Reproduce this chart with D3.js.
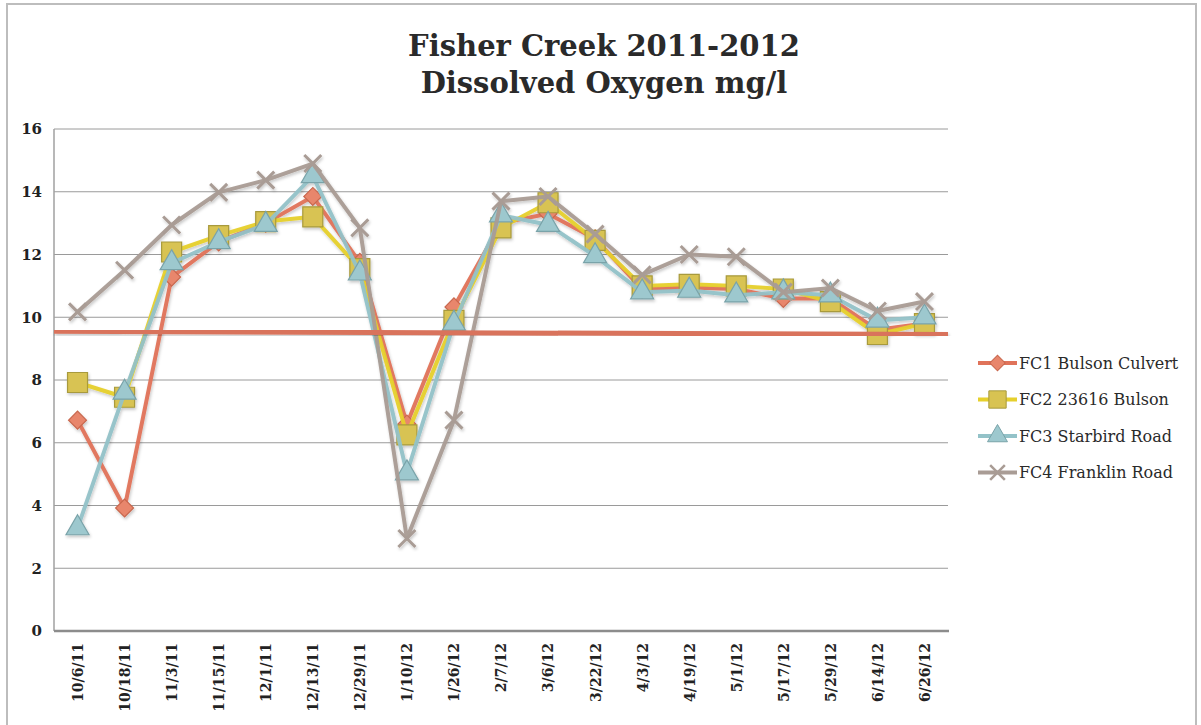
<!DOCTYPE html>
<html>
<head>
<meta charset="utf-8">
<script src="https://cdn.jsdelivr.net/npm/d3@7/dist/d3.min.js"></script>
<style>
  html, body { margin: 0; padding: 0; background: #fff; }
  svg { display: block; }
</style>
</head>
<body>
<svg id="chart" width="1201" height="725"></svg>
<script>
const dates = ["10/6/11","10/18/11","11/3/11","11/15/11","12/1/11","12/13/11","12/29/11","1/10/12","1/26/12","2/7/12","3/6/12","3/22/12","4/3/12","4/19/12","5/1/12","5/17/12","5/29/12","6/14/12","6/26/12"];
const fc1 = [6.72, 3.92, 11.28, 12.4, 13.0, 13.85, 11.75, 6.6, 10.33, 13.0, 13.3, 12.5, 10.9, 10.95, 10.9, 10.6, 10.6, 9.6, 9.8];
const fc2 = [7.92, 7.45, 12.08, 12.6, 13.05, 13.2, 11.55, 6.25, 9.9, 12.85, 13.65, 12.45, 11.0, 11.05, 11.0, 10.9, 10.5, 9.45, 9.8];
const fc3 = [3.28, 7.6, 11.73, 12.4, 12.95, 14.5, 11.4, 5.03, 9.8, 13.25, 12.95, 11.95, 10.8, 10.85, 10.7, 10.8, 10.7, 9.9, 10.0];
const fc4 = [10.17, 11.5, 12.94, 13.98, 14.37, 14.9, 12.85, 2.95, 6.72, 13.7, 13.85, 12.65, 11.35, 12.0, 11.93, 10.8, 10.93, 10.2, 10.5];
const seriesNames = ["FC1 Bulson Culvert", "FC2 23616 Bulson", "FC3 Starbird Road", "FC4 Franklin Road"];
const yTicks = [0, 2, 4, 6, 8, 10, 12, 14, 16];
const threshold = [9.55, 9.45];
const titleLines = ["Fisher Creek 2011-2012", "Dissolved Oxygen mg/l"];

const styles = [
  { line: "#E0735A", fill: "#E8866C", stroke: "#C9684F", symbol: d3.symbolSquare, size: 160, rot: 45 },
  { line: "#E6D02C", fill: "#D8C352", stroke: "#A89A3C", symbol: d3.symbolSquare, size: 400, rot: 0 },
  { line: "#93C2C8", fill: "#9DC8CE", stroke: "#7AA3A9", symbol: d3.symbolTriangle, size: 230, rot: 0 },
  { line: "#A99C95", fill: "none", stroke: "#A99C95", symbol: d3.symbolX, size: 190, rot: 0 }
];
const allSeries = [fc1, fc2, fc3, fc4];

const svg = d3.select("#chart");
const FONT = "'DejaVu Serif', 'Liberation Serif', serif";

const defs = svg.append("defs");
const f = defs.append("filter").attr("id", "shadow").attr("x", "-20%").attr("y", "-20%").attr("width", "140%").attr("height", "140%");
f.append("feDropShadow").attr("dx", 1).attr("dy", 2).attr("stdDeviation", 1.5).attr("flood-color", "#000").attr("flood-opacity", 0.22);

// frame
svg.append("rect").attr("x", 7).attr("y", 4).attr("width", 1189).attr("height", 740)
  .attr("fill", "none").attr("stroke", "#bdbdbd").attr("stroke-width", 2);

const x = d3.scalePoint().domain(dates).range([54, 948]).padding(0.5);
const y = d3.scaleLinear().domain([0, 16]).range([631, 129]);

// gridlines
svg.append("g").selectAll("line").data(yTicks.filter(d => d > 0)).join("line")
  .attr("x1", 54).attr("x2", 948).attr("y1", d => y(d)).attr("y2", d => y(d))
  .attr("stroke", "#9a9a9a").attr("stroke-width", 1);

// left axis line
svg.append("line").attr("x1", 54).attr("x2", 54).attr("y1", y(16)).attr("y2", y(0))
  .attr("stroke", "#a0a0a0").attr("stroke-width", 1.5);
// baseline
svg.append("line").attr("x1", 54).attr("x2", 949).attr("y1", y(0)).attr("y2", y(0))
  .attr("stroke", "#8c8c8c").attr("stroke-width", 2.5);

// y axis labels
const yAxis = d3.axisLeft(y).tickValues(yTicks).tickSize(0).tickPadding(0);
const yg = svg.append("g").attr("transform", "translate(42,0)").call(yAxis);
yg.select(".domain").remove();
yg.selectAll("text").attr("font-family", FONT).attr("font-weight", "bold")
  .attr("font-size", 15).attr("fill", "#222");

// x axis labels
const xAxis = d3.axisBottom(x).tickSize(0).tickPadding(0);
const xg = svg.append("g").attr("transform", "translate(0,643)").call(xAxis);
xg.select(".domain").remove();
xg.selectAll("text")
  .attr("font-family", FONT).attr("font-weight", "bold").attr("font-size", 14).attr("fill", "#222")
  .attr("text-anchor", "end").attr("dy", "0.35em")
  .attr("transform", "rotate(-90)").attr("x", 0).attr("y", 0);

// series lines
const lineGen = d3.line().x((d, i) => x(dates[i])).y(d => y(d));
const seriesG = svg.append("g").attr("filter", "url(#shadow)");
allSeries.forEach((vals, si) => {
  const st = styles[si];
  const g = seriesG.append("g");
  g.append("path").datum(vals).attr("d", lineGen)
    .attr("fill", "none").attr("stroke", st.line).attr("stroke-width", 4)
    .attr("stroke-linejoin", "round").attr("stroke-opacity", 0.95);
  g.selectAll("path.m").data(vals).join("path").attr("class", "m")
    .attr("transform", (d, i) => `translate(${x(dates[i])},${y(d)}) rotate(${st.rot})`)
    .attr("d", d3.symbol().type(st.symbol).size(st.size))
    .attr("fill", st.fill).attr("stroke", st.stroke)
    .attr("stroke-width", st.fill === "none" ? 3 : 1.2);
});

// threshold line
svg.append("line")
  .attr("x1", 54).attr("x2", 948)
  .attr("y1", y(threshold[0])).attr("y2", y(threshold[1]))
  .attr("stroke", "#D9735C").attr("stroke-width", 5).attr("filter", "url(#shadow)");

// title
svg.append("g").selectAll("text").data(titleLines).join("text")
  .attr("x", 604).attr("y", (d, i) => 56 + i * 37)
  .attr("text-anchor", "middle")
  .attr("font-family", FONT).attr("font-weight", "bold").attr("font-size", 29)
  .attr("fill", "#2a2a2a").text(d => d);

// legend
const lg = svg.append("g");
seriesNames.forEach((name, i) => {
  const st = styles[i];
  const yy = 363 + i * 36.5;
  const row = lg.append("g").attr("transform", `translate(0,${yy})`);
  row.append("line").attr("x1", 978).attr("x2", 1017).attr("y1", 0).attr("y2", 0)
    .attr("stroke", st.line).attr("stroke-width", 4);
  row.append("path").attr("transform", `translate(997.5,0) rotate(${st.rot})`)
    .attr("d", d3.symbol().type(st.symbol).size(st.size * 0.75))
    .attr("fill", st.fill).attr("stroke", st.stroke).attr("stroke-width", st.fill === "none" ? 2.5 : 1);
  row.append("text").attr("x", 1019).attr("y", 0).attr("dy", "0.35em")
    .attr("font-family", FONT).attr("font-size", 16).attr("fill", "#2a2a2a").text(name);
});
</script>
</body>
</html>
